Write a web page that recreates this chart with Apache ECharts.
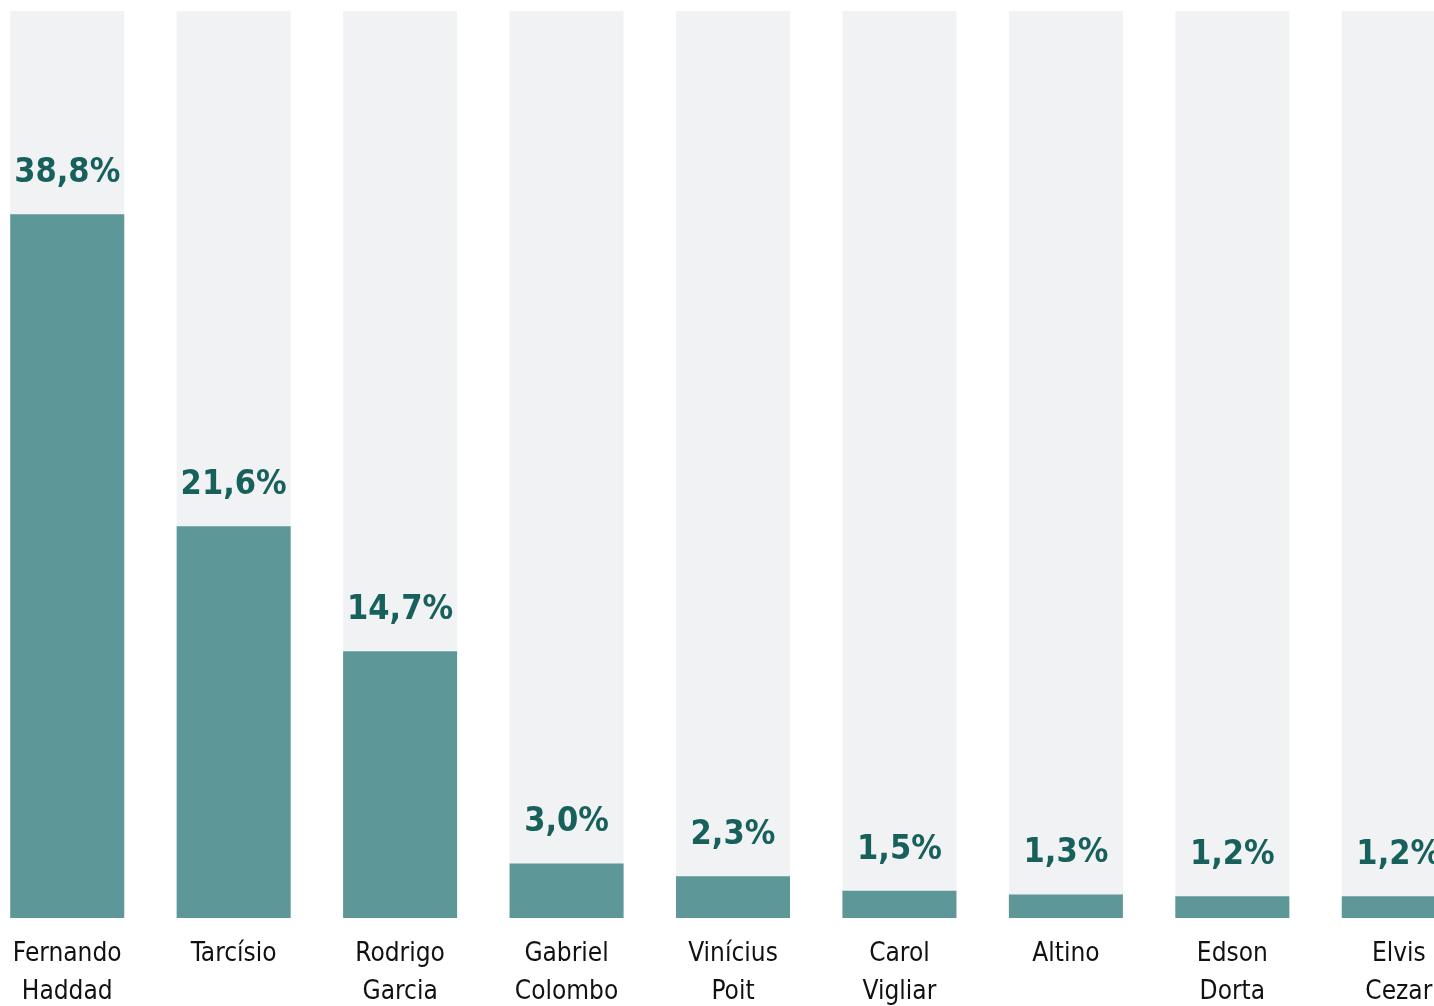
<!DOCTYPE html>
<html>
<head>
<meta charset="utf-8">
<script src="https://cdn.jsdelivr.net/npm/echarts@6/dist/echarts.min.js"></script>
<style>
  html, body { margin: 0; padding: 0; background: #ffffff; }
  #chart { width: 1434px; height: 1006px; }
</style>
</head>
<body>
<div id="chart"></div>
<script>
const candidates = [
  'Fernando\nHaddad', 'Tarcísio', 'Rodrigo\nGarcia', 'Gabriel\nColombo', 'Vinícius\nPoit',
  'Carol\nVigliar', 'Altino', 'Edson\nDorta', 'Elvis\nCezar'
];
const percentages = [38.8, 21.6, 14.7, 3.0, 2.3, 1.5, 1.3, 1.2, 1.2];
const scaleMax = 50;

const condensed = '"Liberation Sans Narrow", "DejaVu Sans Condensed", sans-serif';

const chart = echarts.init(document.getElementById('chart'), null, { renderer: 'canvas' });

chart.setOption({
  animation: false,
  grid: {
    left: -16,
    right: -48,
    top: 11,
    bottom: 88,
    outerBoundsMode: 'none'
  },
  xAxis: {
    type: 'category',
    data: candidates,
    axisLine: { show: false },
    axisTick: { show: false },
    axisLabel: {
      margin: 17,
      color: '#111111',
      fontFamily: condensed,
      fontSize: 26,
      lineHeight: 38,
      interval: 0
    }
  },
  yAxis: {
    type: 'value',
    min: 0,
    max: scaleMax,
    show: false
  },
  series: [{
    type: 'bar',
    data: percentages,
    barWidth: '68.5%',
    itemStyle: { color: '#5e9797' },
    showBackground: true,
    backgroundStyle: { color: '#f1f2f4' },
    label: {
      show: true,
      position: 'top',
      distance: 24,
      color: '#17605c',
      fontFamily: condensed,
      fontWeight: 'bold',
      fontSize: 34,
      formatter: p => p.value.toFixed(1).replace('.', ',') + '%'
    }
  }]
});
</script>
</body>
</html>
